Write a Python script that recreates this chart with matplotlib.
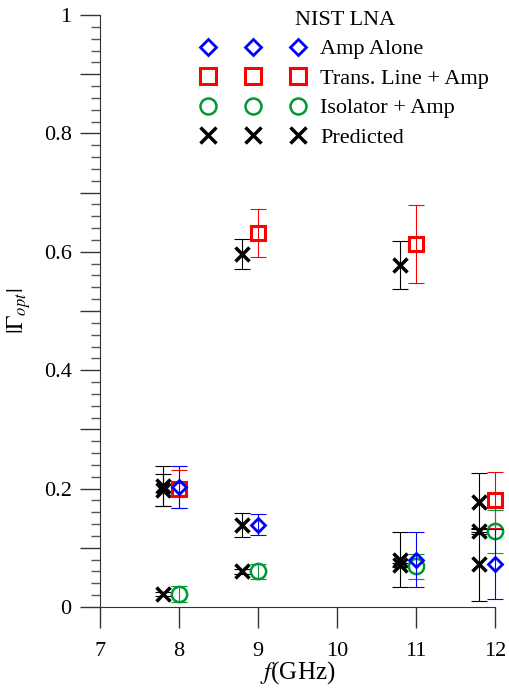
import matplotlib
matplotlib.use("Agg")
import matplotlib.pyplot as plt
from matplotlib.lines import Line2D
from matplotlib.ticker import MultipleLocator, FuncFormatter

# ---- data ----
freq = [8, 9, 11, 12]
pred_freq = [7.8, 8.8, 10.8, 11.8]

amp_alone = [0.203, 0.139, 0.080, 0.073]
amp_alone_err = [0.035, 0.018, 0.047, 0.059]
tl_amp = [0.200, 0.632, 0.613, 0.181]
tl_amp_err = [0.032, 0.040, 0.066, 0.047]
iso_amp = [0.022, 0.060, 0.069, 0.128]
iso_amp_err = [0.014, 0.012, 0.021, 0.036]

pred_amp = [0.204, 0.139, 0.080, 0.072]
pred_amp_err = [0.034, 0.020, 0.047, 0.062]
pred_tl = [0.198, 0.596, 0.578, 0.177]
pred_tl_err = [0.027, 0.025, 0.041, 0.050]
pred_iso = [0.022, 0.060, 0.071, 0.128]
pred_iso_err = [0.004, 0.004, 0.004, 0.004]

labels = ["Amp Alone", "Trans. Line + Amp", "Isolator + Amp", "Predicted"]
legend_title = "NIST LNA"
xticks = [7, 8, 9, 10, 11, 12]

plt.rcParams['font.family'] = 'serif'
plt.rcParams['font.serif'] = ['Liberation Serif', 'DejaVu Serif']
plt.rcParams['mathtext.fontset'] = 'stix'

BLUE = '#0000ff'
RED = '#ff0000'
GREEN = '#009933'
BLACK = '#000000'

fig = plt.figure(figsize=(5.09, 6.92), dpi=100)
ax = fig.add_axes([100/509, 1 - 607/692, 395/509, 592/692])

cap = 5.5
elw = 0.8

def series(x, y, e, color, marker, ms, mew, z, filled=False):
    c = ax.errorbar(x, y, yerr=e, fmt='none', ecolor=color, elinewidth=elw,
                    capsize=cap, capthick=elw, zorder=z)
    for art in c.get_children():
        art.set_clip_on(False)
    ax.plot(x, y, ls='none', marker=marker, mfc='none', mec=color, ms=ms, mew=mew,
            zorder=z + 0.5, clip_on=False)

for y, e in [(pred_amp, pred_amp_err), (pred_tl, pred_tl_err), (pred_iso, pred_iso_err)]:
    series(pred_freq, y, e, BLACK, 'x', 10, 2.5, 3)

series(freq, tl_amp, tl_amp_err, RED, 's', 9.5, 2.2, 3)
series(freq, iso_amp, iso_amp_err, GREEN, 'o', 11, 1.8, 3)
series(freq, amp_alone, amp_alone_err, BLUE, 'D', 7.5, 2.0, 4)

ax.set_xlim(7, 12)
ax.set_ylim(0, 1)
for s in ['top', 'right']:
    ax.spines[s].set_visible(False)
ax.spines['left'].set_color('#333333')
ax.spines['bottom'].set_color('#333333')

ax.set_xticks(xticks)
ax.yaxis.set_major_locator(MultipleLocator(0.1))
ax.yaxis.set_minor_locator(MultipleLocator(0.02))
def yfmt(v, pos):
    k = round(v * 10)
    if k % 2:
        return ''
    if k == 0:
        return '0'
    if k == 10:
        return '1'
    return f'{v:.1f}'
ax.yaxis.set_major_formatter(FuncFormatter(yfmt))
ax.tick_params(axis='both', which='major', direction='out', length=14.5, width=1,
               color='#333333', labelsize=16, pad=6)
ax.tick_params(axis='y', which='minor', direction='out', length=6.5, width=1, color='#555555')
ax.tick_params(axis='x', which='major', length=15, pad=10)

ax.set_xlabel(r'$f$(GHz)', fontsize=18, labelpad=-1)
ax.set_ylabel(r'$|\Gamma_{opt}|$', fontsize=17, labelpad=8)

handles = [
    Line2D([], [], ls='none', marker='D', mfc='none', mec=BLUE, ms=8, mew=2.0),
    Line2D([], [], ls='none', marker='s', mfc='none', mec=RED, ms=11, mew=2.2),
    Line2D([], [], ls='none', marker='o', mfc='none', mec=GREEN, ms=11.5, mew=1.8),
    Line2D([], [], ls='none', marker='x', mec=BLACK, ms=11, mew=2.5),
]
leg = fig.legend(handles, labels, title=legend_title, loc='upper left',
                 bbox_to_anchor=(201.3/509, 1 - 11/692), frameon=False, numpoints=3,
                 handlelength=4.65, handletextpad=0.69, labelspacing=0.4,
                 borderpad=0, borderaxespad=0, fontsize=16, title_fontsize=16)

fig.savefig('out.png', dpi=100)
